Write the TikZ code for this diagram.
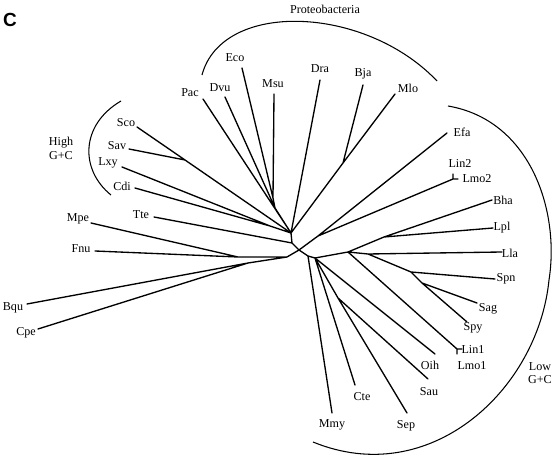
\documentclass[tikz,border=0pt]{standalone}
\usepackage{fontspec}
\setmainfont{Liberation Serif}
\newfontfamily\panelfont{Liberation Sans}
\begin{document}
\begin{tikzpicture}[x=0.025cm, y=-0.025cm, font=\fontsize{8.6}{9.8}\selectfont,
  branch/.style={line width=0.95pt, line join=round, line cap=round}, clade/.style={line width=0.75pt}, lab/.style={inner sep=0pt}]
\useasboundingbox (0,0) rectangle (560,465);
\node[font=\panelfont\bfseries\fontsize{13.5}{13.5}\selectfont] (panel) at (10,20) {C};
% inner nodes of the tree
\coordinate (R) at (299,250); \coordinate (A) at (292,243); \coordinate (B) at (291,233); \coordinate (H) at (270,226); \coordinate (SV) at (185,160);
\coordinate (D1) at (275,208); \coordinate (M) at (273,198); \coordinate (BM) at (343,163); \coordinate (X) at (287,257); \coordinate (FM) at (238,257); \coordinate (BC) at (248,263);
\coordinate (E) at (318,236); \coordinate (L0) at (308,256); \coordinate (L1) at (315,258); \coordinate (L2) at (348,252); \coordinate (L3) at (384,237); \coordinate (L4) at (368,254);
\coordinate (N1) at (411,272); \coordinate (N2) at (422,283); \coordinate (SS) at (338,298);
% tips
\coordinate (Sco) at (137,127); \coordinate (Sav) at (129,149); \coordinate (Lxy) at (122,167); \coordinate (Cdi) at (135,188); \coordinate (Tte) at (154,217);
\coordinate (Mpe) at (91,223); \coordinate (Fnu) at (95,251); \coordinate (Bqu) at (27,304); \coordinate (Cpe) at (38,329);
\coordinate (Pac) at (203,99); \coordinate (Dvu) at (225,97); \coordinate (Eco) at (242,68); \coordinate (Msu) at (274,94); \coordinate (Dra) at (320,80); \coordinate (Bja) at (363,85); \coordinate (Mlo) at (395,94);
\coordinate (Efa) at (447,133); \coordinate (LL2) at (453,179); \coordinate (Lin2) at (453,174); \coordinate (Lmo2) at (458,179);
\coordinate (Bha) at (492,200); \coordinate (Lpl) at (493,228); \coordinate (Lla) at (502,252); \coordinate (Spn) at (495,279); \coordinate (Sag) at (477,303); \coordinate (Spy) at (467,322);
\coordinate (LL1) at (457,349); \coordinate (Lin1) at (462,349); \coordinate (Lmo1) at (457,354);
\coordinate (Oih) at (435,354); \coordinate (Sau) at (428,379); \coordinate (Sep) at (407,413); \coordinate (Cte) at (355,385); \coordinate (Mmy) at (332,413);
% branches
\draw[branch] (R)--(A)--(Tte) (A)--(B)--(Pac) (B)--(D1)--(Dvu) (D1)--(M)--(Eco) (M)--(Msu) (B)--(Dra) (B)--(BM)--(Bja) (BM)--(Mlo);
\draw[branch] (B)--(SV)--(Sco) (SV)--(Sav) (B)--(H)--(Lxy) (H)--(Cdi);
\draw[branch] (R)--(X)--(FM)--(Mpe) (FM)--(Fnu) (X)--(BC)--(Bqu) (BC)--(Cpe);
\draw[branch] (R)--(E)--(Efa) (E)--(LL2)--(Lin2) (LL2)--(Lmo2);
\draw[branch] (R)--(L0)--(Mmy) (L0)--(L1)--(Cte) (L1)--(Oih) (L1)--(SS)--(Sau) (SS)--(Sep);
\draw[branch] (L1)--(L2)--(L3)--(Bha) (L3)--(Lpl) (L2)--(L4)--(Lla) (L4)--(N1)--(Spn) (N1)--(N2)--(Sag) (N2)--(Spy) (L2)--(LL1)--(Lin1) (LL1)--(Lmo1);
% clade arcs
\draw[clade] (202,75) .. controls (222,0) and (365,5) .. (437,81);
\draw[clade] (121,101) .. controls (80,125) and (80,170) .. (111,195);
\draw[clade] (448,106) .. controls (530,120) and (560,210) .. (549,280) .. controls (538,390) and (430,490) .. (313,442);
% labels
\node[lab] (lProteo) at (325,9) {Proteobacteria}; \node[lab, align=center] (lHigh) at (61,148) {High\\G+C}; \node[lab, align=center] (lLow) at (540,373) {Low\\G+C};
\node[lab] (lSco) at (126,123) {Sco}; \node[lab] (lSav) at (117,146) {Sav}; \node[lab] (lLxy) at (108,163) {Lxy}; \node[lab] (lCdi) at (122,186) {Cdi}; \node[lab] (lTte) at (141,215) {Tte};
\node[lab] (lMpe) at (78,219) {Mpe}; \node[lab] (lFnu) at (81,249) {Fnu}; \node[lab] (lBqu) at (13,308) {Bqu}; \node[lab] (lCpe) at (26,333) {Cpe};
\node[lab] (lPac) at (190,93) {Pac}; \node[lab] (lDvu) at (220,88) {Dvu}; \node[lab] (lEco) at (235,58) {Eco}; \node[lab] (lMsu) at (273,84) {Msu}; \node[lab] (lDra) at (320,69) {Dra}; \node[lab] (lBja) at (363,74) {Bja}; \node[lab] (lMlo) at (408,88) {Mlo};
\node[lab] (lEfa) at (462,132) {Efa}; \node[lab] (lLin2) at (460,163) {Lin2}; \node[lab] (lLmo2) at (477,179) {Lmo2}; \node[lab] (lBha) at (503,200) {Bha}; \node[lab] (lLpl) at (502,228) {Lpl}; \node[lab] (lLla) at (510,253) {Lla}; \node[lab] (lSpn) at (506,279) {Spn};
\node[lab] (lSag) at (488,309) {Sag}; \node[lab] (lSpy) at (473,328) {Spy}; \node[lab] (lLin1) at (473,349) {Lin1}; \node[lab] (lLmo1) at (472,366) {Lmo1};
\node[lab] (lOih) at (430,365) {Oih}; \node[lab] (lSau) at (429,392) {Sau}; \node[lab] (lSep) at (406,426) {Sep}; \node[lab] (lCte) at (362,397) {Cte}; \node[lab] (lMmy) at (332,425) {Mmy};
\end{tikzpicture}
\end{document}
